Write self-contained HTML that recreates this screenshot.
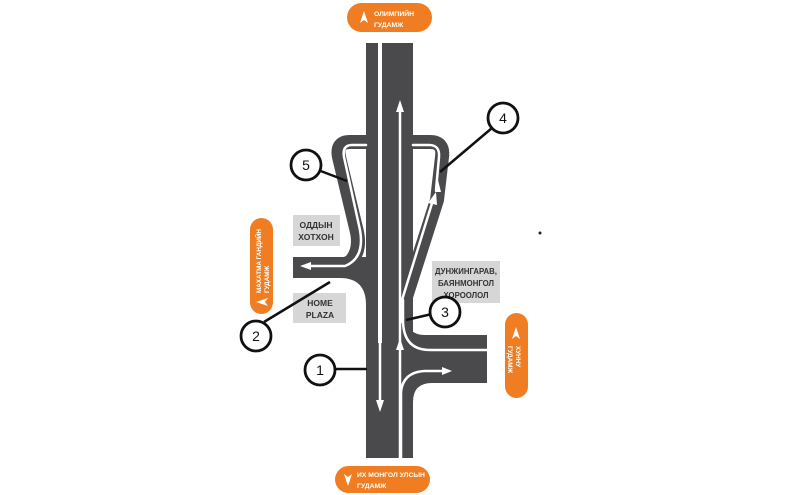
<!DOCTYPE html>
<html><head><meta charset="utf-8"><style>
html,body{margin:0;padding:0;background:#fff;}
svg{display:block}
text{font-family:"Liberation Sans",sans-serif;font-weight:bold;}
</style></head><body>
<svg width="800" height="495" viewBox="0 0 800 495" xmlns="http://www.w3.org/2000/svg">
<rect width="800" height="495" fill="#fff"/>
<g fill="#4a4a4c" stroke="none">
  <rect x="366" y="43" width="47" height="415"/>
  <rect x="293" y="257" width="75" height="21"/>
  <path d="M340 278 Q366 278 366 305 L368 305 L368 276 Z"/>
  <rect x="411" y="335" width="76" height="48"/>
  <path d="M407 300 L407 317 Q407 335 425 335 L411 340 Z"/>
  <path d="M411 383 L432 383 Q413 383 413 402 L411 402 Z"/>
</g>
<g fill="none" stroke="#4a4a4c" stroke-width="14" stroke-linejoin="round">
  <path d="M368 142 L350 142 Q336 142 339 157 L356 228 Q362 250 350 262 L340 266"/>
  <path d="M411 142 L430 142 Q444 142 442 157 L437 200 L405 300 L405 330"/>
</g>
<rect x="378" y="43" width="4" height="300" fill="#fff"/>
<g fill="none" stroke="#fff" stroke-width="2.5" stroke-linecap="round">
  <path d="M366 145 L352 145 Q342 145 344 157 L360 230 Q365 258 345 266 L305 266"/>
  <path d="M413 145 L429 145 Q440 145 439 157 L436 190"/>
  <path d="M402 322 L402 300 L433 200"/>
  <path d="M400 458 L400 108"/>
  <path d="M380 340 L380 405"/>
  <path d="M403 300 L403 320 Q403 350 430 350 L487 350"/>
  <path d="M401 458 L401 392 Q403 372 425 371 L444 371"/>
</g>
<g fill="#fff">
  <polygon points="400,100 396,112 404,112"/>
  <polygon points="400,338 396,350 404,350"/>
  <polygon points="380,412 376,400 384,400"/>
  <polygon points="436,192 428,203 437,205"/>
  <polygon points="300,266 311,262 311,270"/>
  <polygon points="452,371 442,367 442,375"/>
  <polygon points="438,180 435,192 441,192"/>
</g>
<g fill="#d6d6d6">
  <rect x="293" y="215" width="47" height="31"/>
  <rect x="293" y="293" width="53" height="30"/>
  <rect x="432" y="261" width="68" height="42"/>
</g>
<g fill="#333" text-anchor="middle">
  <text x="316" y="228" font-size="8.5">ОДДЫН</text><text x="316" y="240" font-size="8.5">ХОТХОН</text>
  <text x="320" y="306" font-size="8.5">HOME</text><text x="320" y="318" font-size="8.5">PLAZA</text>
  <text x="466" y="274" font-size="7.8">ДУНЖИНГАРАВ,</text><text x="466" y="286" font-size="7.8">БАЯНМОНГОЛ</text><text x="466" y="298" font-size="7.8">ХОРООЛОЛ</text>
</g>
<g stroke="#111" stroke-width="2.5" fill="none">
  <line x1="318" y1="170" x2="347" y2="181"/>
  <line x1="492" y1="128" x2="440" y2="172"/>
  <line x1="264" y1="322" x2="330" y2="282"/>
  <line x1="432" y1="314" x2="406" y2="320"/>
  <line x1="336" y1="369" x2="367" y2="369"/>
</g>
<g stroke="#111" stroke-width="2.8" fill="#fff">
  <circle cx="306" cy="165" r="15"/>
  <circle cx="503" cy="118" r="15"/>
  <circle cx="256" cy="336" r="15"/>
  <circle cx="445" cy="312" r="15"/>
  <circle cx="320" cy="370" r="15"/>
</g>
<g fill="#111" font-size="14" text-anchor="middle">
  <text x="306" y="170" style="font-weight:normal">5</text>
  <text x="503" y="123" style="font-weight:normal">4</text>
  <text x="256" y="341" style="font-weight:normal">2</text>
  <text x="445" y="317" style="font-weight:normal">3</text>
  <text x="320" y="375" style="font-weight:normal">1</text>
</g>
<g fill="#f07d22">
  <rect x="347" y="3" width="85" height="29" rx="14.5"/>
  <rect x="335" y="466" width="95" height="27" rx="13.5"/>
  <rect x="250" y="218" width="23" height="96" rx="11.5"/>
  <rect x="505" y="313" width="23" height="85" rx="11.5"/>
</g>
<g fill="#fff" font-size="6.8">
  <polygon points="364,11 360,23 364,20 368,23"/>
  <text x="374" y="16">ОЛИМПИЙН</text><text x="374" y="27">ГУДАМЖ</text>
  <polygon points="348,486 344,474 348,477 352,474"/>
  <text x="357" y="477">ИХ МОНГОЛ УЛСЫН</text><text x="357" y="488">ГУДАМЖ</text>
  <polygon points="256,302 268,298 265,302 268,306"/>
  <text font-size="6.3" transform="translate(261,293) rotate(-90)">МАХАТМА ГАНДИЙН</text>
  <text font-size="6.3" transform="translate(269,293) rotate(-90)">ГУДАМЖ</text>
  <polygon points="516,327 520,339 516,336 512,339"/>
  <text font-size="6.3" transform="translate(516,346) rotate(90)">ХУННУ</text>
  <text font-size="6.3" transform="translate(508,346) rotate(90)">ГУДАМЖ</text>
</g>
<circle cx="540" cy="233" r="1.5" fill="#222"/>
</svg>
</body></html>
